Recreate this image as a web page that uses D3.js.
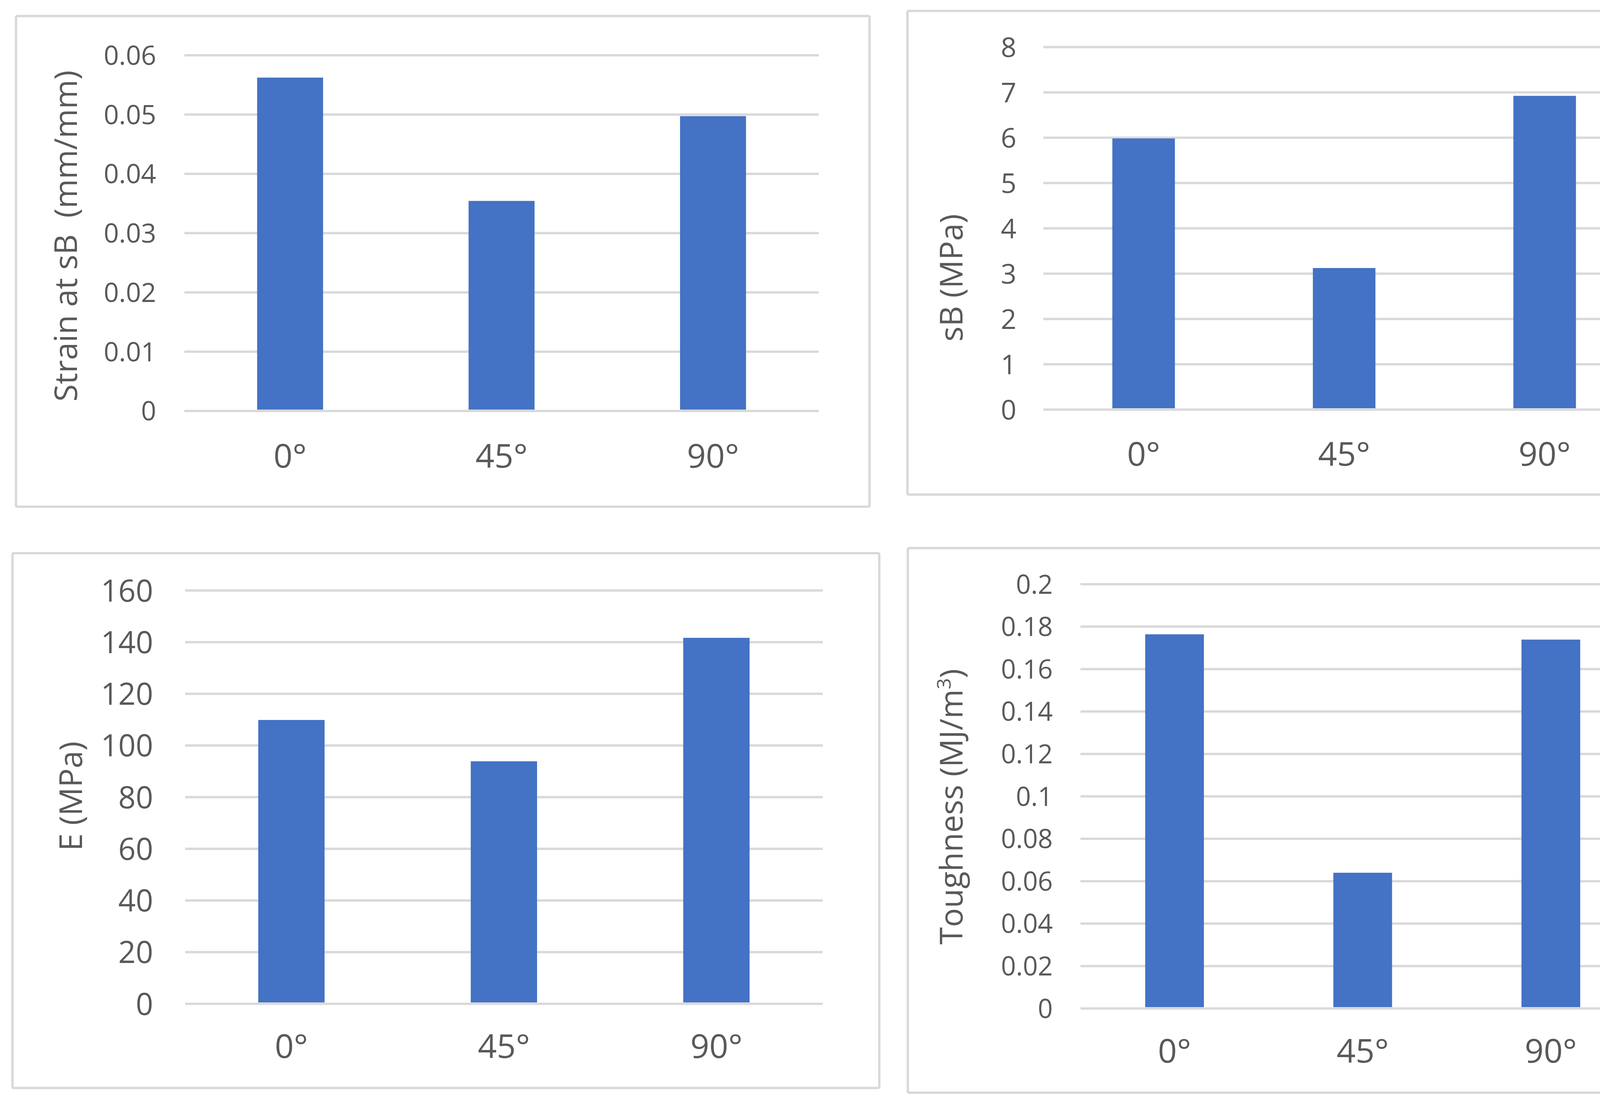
<!DOCTYPE html>
<html>
<head>
<meta charset="utf-8">
<script src="https://cdn.jsdelivr.net/npm/d3@7"></script>
<style>
  body { margin: 0; background: #fff; }
  text { font-family: "Open Sans", sans-serif; fill: #595959; }
</style>
</head>
<body>
<div id="chart"></div>
<script>
// categories and values
var angles = ['0°', '45°', '90°'];
var strainValues = [0.0562, 0.0354, 0.0497];
var strengthValues = [5.98, 3.12, 6.92];
var modulusValues = [109.8, 93.8, 141.6];
var toughnessValues = [0.1763, 0.0639, 0.1738];

// tick labels of each value axis
var strainTicks = [0, 0.01, 0.02, 0.03, 0.04, 0.05, 0.06];
var strengthTicks = [0, 1, 2, 3, 4, 5, 6, 7, 8];
var modulusTicks = [0, 20, 40, 60, 80, 100, 120, 140, 160];
var toughnessTicks = [0, 0.02, 0.04, 0.06, 0.08, 0.1, 0.12, 0.14, 0.16, 0.18, 0.2];

var width = 4335, height = 2826;
var barColor = '#4472c4', gridColor = '#d9d9d9';

var svg = d3.select('#chart')
    .append('svg')
    .attr('width', width)
    .attr('height', height);

svg.append('rect').attr('width', width).attr('height', height).attr('fill', '#fff');

// layout of the four panels (frame, plot area, label sizes)
var panels = [
    {values: strainValues, ticks: strainTicks, title: ['Strain at sB\u00a0\u00a0(mm/mm)'],
     frame: [41, 41, 2226, 1297], plot: [472, 2096, 141, 1051.5], tickSize: 68, pad: 72,
     titleX: 169, titleY: 604, labelY: 1197},
    {values: strengthValues, ticks: strengthTicks, title: ['sB (MPa)'],
     frame: [2323, 28, 4302, 1266], plot: [2671, 4211, 120, 1048], tickSize: 70, pad: 69,
     titleX: 2436, titleY: 711, labelY: 1192},
    {values: modulusValues, ticks: modulusTicks, title: ['E (MPa)'],
     frame: [32, 1416, 2251, 2785], plot: [474, 2106, 1511, 2569], tickSize: 78, pad: 82,
     titleX: 182, titleY: 2038, labelY: 2708},
    {values: toughnessValues, ticks: toughnessTicks, title: ['Toughness (MJ/m', '3', ')'],
     frame: [2324, 1403, 4302, 2797], plot: [2766, 4211, 1495, 2581], tickSize: 67, pad: 71,
     titleX: 2436, titleY: 2065, labelY: 2720}
];

panels.forEach(drawPanel);

function drawPanel(p) {
    var g = svg.append('g');

    // frame
    g.append('rect')
        .attr('x', p.frame[0])
        .attr('y', p.frame[1])
        .attr('width', p.frame[2] - p.frame[0])
        .attr('height', p.frame[3] - p.frame[1])
        .attr('fill', 'none')
        .attr('stroke', gridColor)
        .attr('stroke-width', 6)
        .attr('rx', 3);

    var x = d3.scaleBand()
        .domain(angles)
        .range([p.plot[0], p.plot[1]])
        .paddingInner(0.688)
        .paddingOuter(0.344);

    var y = d3.scaleLinear()
        .domain([0, d3.max(p.ticks)])
        .range([p.plot[3], p.plot[2]]);

    // gridlines + tick labels
    var axis = g.append('g')
        .attr('transform', 'translate(' + p.plot[0] + ',0)')
        .call(d3.axisLeft(y)
            .tickValues(p.ticks)
            .tickSize(-(p.plot[1] - p.plot[0]))
            .tickPadding(p.pad)
            .tickFormat(d3.format('~g')));
    axis.select('.domain').remove();
    axis.selectAll('.tick line')
        .attr('stroke', gridColor)
        .attr('stroke-width', 6);
    axis.selectAll('.tick text')
        .attr('fill', '#595959')
        .attr('dy', '0.36em')
        .style('font-size', p.tickSize + 'px');

    // bars
    g.selectAll('.bar')
        .data(p.values)
        .enter()
        .append('rect')
        .attr('class', 'bar')
        .attr('x', function(d, i) { return x(angles[i]); })
        .attr('width', x.bandwidth())
        .attr('y', function(d) { return y(d); })
        .attr('height', function(d) { return y(0) - 3 - y(d); })
        .attr('fill', barColor);

    // category labels
    g.selectAll('.cat')
        .data(angles)
        .enter()
        .append('text')
        .attr('class', 'cat')
        .attr('x', function(d) { return x(d) + x.bandwidth() / 2; })
        .attr('y', p.labelY)
        .attr('text-anchor', 'middle')
        .style('font-size', '85px')
        .text(function(d) { return d; });

    // axis title
    var t = g.append('text')
        .attr('transform', 'translate(' + p.titleX + ',' + p.titleY + ') rotate(-90)')
        .attr('text-anchor', 'middle')
        .attr('dy', '0.35em')
        .style('font-size', '81px');
    t.append('tspan').text(p.title[0]);
    if (p.title.length > 1) {
        t.append('tspan').attr('dy', -30).style('font-size', '50px').text(p.title[1]);
        t.append('tspan').attr('dy', 30).text(p.title[2]);
    }
}
</script>
</body>
</html>
